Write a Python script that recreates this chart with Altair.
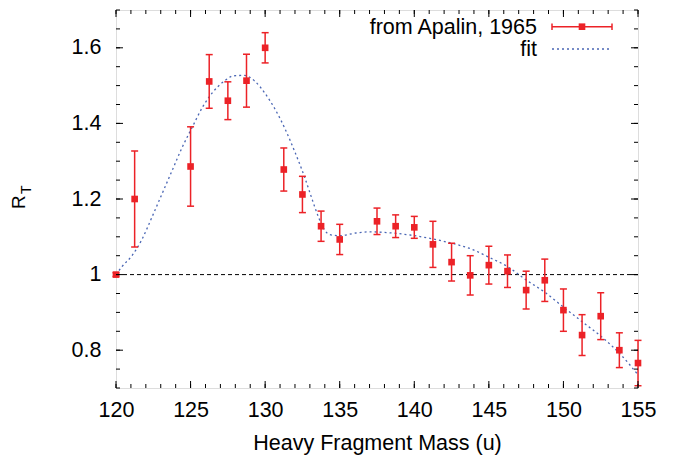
import altair as alt
import pandas as pd

# ---------------- data ----------------
mass = [120, 121.25, 125, 126.25, 127.5, 128.75, 130, 131.25, 132.5, 133.75, 135,
        137.5, 138.75, 140, 141.25, 142.5, 143.75, 145, 146.25, 147.5, 148.75,
        150, 151.25, 152.5, 153.75, 155]
ratio = [1.0, 1.20, 1.286, 1.511, 1.460, 1.513, 1.600, 1.278, 1.212, 1.128, 1.093,
         1.141, 1.128, 1.125, 1.080, 1.033, 0.998, 1.025, 1.009, 0.959, 0.985,
         0.906, 0.840, 0.890, 0.800, 0.766]
err = [0.005, 0.127, 0.105, 0.071, 0.050, 0.070, 0.040, 0.057, 0.048, 0.040, 0.040,
       0.035, 0.030, 0.029, 0.061, 0.050, 0.052, 0.050, 0.043, 0.050, 0.056,
       0.056, 0.054, 0.062, 0.046, 0.060]

fit_mass = [120, 120.4, 121.07, 121.74, 122.4, 123.08, 123.76, 124.43, 125.1, 125.8,
            126.5, 127.2, 127.9, 128.6, 129.3, 130.0, 130.66, 131.33, 132.0,
            132.68, 133.1, 133.5, 133.9, 134.3, 135.0, 136.1, 137.0, 138.8, 140.0,
            141.3, 142.5, 143.8, 145.0, 146.3, 147.5, 148.8, 150.0, 151.3, 152.6,
            153.8, 155.0]
fit_value = [1.0, 1.021, 1.05, 1.093, 1.151, 1.213, 1.275, 1.336, 1.389, 1.443,
             1.483, 1.510, 1.526, 1.527, 1.512, 1.479, 1.438, 1.386, 1.324,
             1.254, 1.205, 1.16, 1.124, 1.106, 1.103, 1.11, 1.113, 1.109, 1.103,
             1.094, 1.083, 1.068, 1.046, 1.020, 0.986, 0.952, 0.914, 0.874, 0.834,
             0.79, 0.735]

x_labels = [120, 125, 130, 135, 140, 145, 150, 155]
y_labels = [0.8, 1.0, 1.2, 1.4, 1.6]
x_minor = list(range(120, 156))
y_minor = [round(0.7 + 0.05 * i, 2) for i in range(21)]
reference_level = [1.0]

legend_labels = ["from Apalin, 1965", "fit"]
x_title = "Heavy Fragment Mass (u)"
y_title_main = ["R"]
y_title_sub = ["T"]

# ---------------- style ----------------
W, H = 522, 378
FONT = "Liberation Sans"
FS = 21.5
RED = "#ec2227"
BLUE = "#4a66b4"
MAJ, MIN = 7, 4

xs = alt.Scale(domain=[120, 155], nice=False, zero=False)
ys = alt.Scale(domain=[0.7, 1.7], nice=False, zero=False)

df = pd.DataFrame({"mass": mass, "ratio": ratio, "err": err})
df["lo"] = df["ratio"] - df["err"]
df["hi"] = df["ratio"] + df["err"]
fit_df = pd.DataFrame({"mass": fit_mass, "value": fit_value})

x_axis = alt.Axis(values=x_labels, domain=False, ticks=False, grid=False, labelFlush=False,
                  labelFont=FONT, labelFontSize=FS, labelColor="black", labelPadding=11,
                  title=x_title, titleFont=FONT, titleFontSize=FS, titleFontWeight="normal",
                  titleColor="black", titlePadding=12)
y_axis = alt.Axis(values=y_labels, format="~g", domain=False, ticks=False, grid=False,
                  labelFlush=False,
                  labelFont=FONT, labelFontSize=FS, labelColor="black", labelPadding=15,
                  title="")

base = alt.Chart(df)

# reference line at 1
ref = alt.Chart(pd.DataFrame({"v": reference_level})).mark_rule(
    color="black", strokeWidth=1, strokeDash=[4, 3]
).encode(y=alt.Y("v:Q", scale=ys, axis=y_axis))

fit = alt.Chart(fit_df).mark_line(
    color=BLUE, strokeWidth=1.3, strokeDash=[2, 3], interpolate="monotone"
).encode(x=alt.X("mass:Q", scale=xs, axis=x_axis), y=alt.Y("value:Q", scale=ys))

bars = base.mark_rule(color=RED, strokeWidth=1.5).encode(
    x=alt.X("mass:Q", scale=xs), y=alt.Y("lo:Q", scale=ys), y2="hi:Q")
cap_lo = base.mark_rule(color=RED, strokeWidth=1.5, xOffset=-3.5, x2Offset=3.5).encode(
    x=alt.X("mass:Q", scale=xs), x2="mass:Q", y=alt.Y("lo:Q", scale=ys))
cap_hi = base.mark_rule(color=RED, strokeWidth=1.5, xOffset=-3.5, x2Offset=3.5).encode(
    x=alt.X("mass:Q", scale=xs), x2="mass:Q", y=alt.Y("hi:Q", scale=ys))
pts = base.mark_square(color=RED, size=44, opacity=1).encode(
    x=alt.X("mass:Q", scale=xs), y=alt.Y("ratio:Q", scale=ys))

# inward ticks on all four sides
xmaj = pd.DataFrame({"t": x_labels})
xmin = pd.DataFrame({"t": x_minor})
ymaj = pd.DataFrame({"t": y_labels})
ymin = pd.DataFrame({"t": y_minor})
tick_layers = []
for d, ln in ((xmaj, MAJ), (xmin, MIN)):
    tick_layers.append(alt.Chart(d).mark_rule(color="black", strokeWidth=1).encode(
        x=alt.X("t:Q", scale=xs), y=alt.value(H), y2=alt.value(H - ln)))
    tick_layers.append(alt.Chart(d).mark_rule(color="black", strokeWidth=1).encode(
        x=alt.X("t:Q", scale=xs), y=alt.value(0), y2=alt.value(ln)))
for d, ln in ((ymaj, MAJ), (ymin, MIN)):
    tick_layers.append(alt.Chart(d).mark_rule(color="black", strokeWidth=1).encode(
        y=alt.Y("t:Q", scale=ys), x=alt.value(0), x2=alt.value(ln)))
    tick_layers.append(alt.Chart(d).mark_rule(color="black", strokeWidth=1).encode(
        y=alt.Y("t:Q", scale=ys), x=alt.value(W), x2=alt.value(W - ln)))

# y title R_T
r_txt = alt.Chart(pd.DataFrame({"s": y_title_main})).mark_text(
    font=FONT, fontSize=19, angle=270, align="left", baseline="alphabetic", color="black"
).encode(text="s:N", x=alt.value(-91), y=alt.value(199))
t_txt = alt.Chart(pd.DataFrame({"s": y_title_sub})).mark_text(
    font=FONT, fontSize=14, angle=270, align="left", baseline="alphabetic", color="black"
).encode(text="s:N", x=alt.value(-85), y=alt.value(184))

# legend
leg1 = alt.Chart(pd.DataFrame({"s": [legend_labels[0]]})).mark_text(
    font=FONT, fontSize=FS, align="right", baseline="alphabetic", color="black"
).encode(text="s:N", x=alt.value(421), y=alt.value(23.5))
leg2 = alt.Chart(pd.DataFrame({"s": [legend_labels[1]]})).mark_text(
    font=FONT, fontSize=FS, align="right", baseline="alphabetic", color="black"
).encode(text="s:N", x=alt.value(421), y=alt.value(45.5))
leg_dummy = pd.DataFrame({"k": [0]})
leg_line = alt.Chart(leg_dummy).mark_rule(color=RED, strokeWidth=1.5).encode(
    x=alt.value(436), x2=alt.value(496), y=alt.value(16.7))
leg_cap1 = alt.Chart(leg_dummy).mark_rule(color=RED, strokeWidth=1.5).encode(
    x=alt.value(436), y=alt.value(13.5), y2=alt.value(20))
leg_cap2 = alt.Chart(leg_dummy).mark_rule(color=RED, strokeWidth=1.5).encode(
    x=alt.value(496), y=alt.value(13.5), y2=alt.value(20))
leg_sq = alt.Chart(leg_dummy).mark_square(color=RED, size=44, opacity=1).encode(
    x=alt.value(466), y=alt.value(16.7))
leg_fit = alt.Chart(leg_dummy).mark_rule(color=BLUE, strokeWidth=1.3, strokeDash=[2, 3]).encode(
    x=alt.value(436), x2=alt.value(494), y=alt.value(39))

chart = alt.layer(
    ref, fit, bars, cap_lo, cap_hi, pts, *tick_layers,
    r_txt, t_txt, leg1, leg2, leg_line, leg_cap1, leg_cap2, leg_sq, leg_fit
).properties(
    width=W, height=H,
    autosize=alt.AutoSizeParams(type="none"),
    padding={"left": 116, "top": 10, "right": 38, "bottom": 69},
).configure_view(
    stroke="black", strokeWidth=1.5
).configure(background="white")

chart.save("out.html", embed_options={"renderer": "svg", "actions": False})
